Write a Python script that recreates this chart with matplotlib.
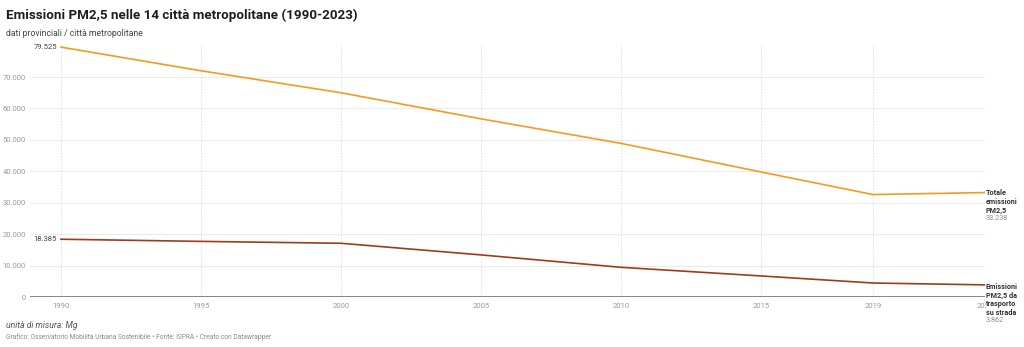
import matplotlib.pyplot as plt

plt.rcParams['font.family'] = ['Roboto', 'DejaVu Sans']

# Emissioni PM2,5 (Mg) nelle 14 città metropolitane
anni = [1990, 1995, 2000, 2005, 2010, 2015, 2019, 2023]
totale = [79525, 72000, 65000, 56700, 48900, 39800, 32600, 33238]
trasporto = [18385, 17700, 17100, 13400, 9450, 6700, 4450, 3862]
anni_tick = [1990, 1995, 2000, 2005, 2010, 2015, 2019, 2023]
valori_tick = [0, 10000, 20000, 30000, 40000, 50000, 60000, 70000]

ARANCIO = '#f8991d'
MARRONE = '#9e3b1b'
W, H = 1024, 347


def fmt(v):
    return f"{v:,}".replace(",", ".")


def px(x, y):
    return x / W, 1 - y / H


fig = plt.figure(figsize=(W / 100, H / 100), dpi=100)
# area del grafico: da x=30 a x=985, da y=45 a y=297 (pixel)
ax = fig.add_axes([30 / W, 1 - 297 / H, 955 / W, 252 / H])
ax.set_xlim(1990 - 31 / 28, 2023)
ax.set_ylim(0, 80200)

for s in ax.spines.values():
    s.set_visible(False)

# griglia orizzontale continua, verticale tratteggiata
for v in valori_tick[1:]:
    ax.axhline(v, color='#ebebeb', lw=0.8, zorder=0)
for a in anni_tick:
    ax.axvline(a, color='#e0e0e0', lw=0.7, ls=(0, (1.5, 1.5)), zorder=0)
ax.axhline(0, color='#666666', lw=1.1, zorder=1)

ax.plot(anni, totale, color=ARANCIO, lw=1.2, zorder=3,
        solid_joinstyle='round')
ax.plot(anni, trasporto, color=MARRONE, lw=1.2, zorder=3,
        solid_joinstyle='round')

ax.set_xticks(anni_tick)
ax.set_xticklabels([str(a) for a in anni_tick])
ax.set_yticks(valori_tick)
ax.set_yticklabels([fmt(v) for v in valori_tick])
ax.tick_params(length=0, labelsize=5.5, labelcolor='#9a9a9a')
ax.tick_params(axis='x', pad=4)
ax.tick_params(axis='y', pad=3)

# valori iniziali
for serie in (totale, trasporto):
    ax.annotate(fmt(serie[0]), (anni[0], serie[0]), xytext=(-3, 0),
                textcoords='offset points', ha='right', va='center',
                fontsize=5.5, color='#444444')

# etichette delle serie a destra (sfondo bianco sopra l'ultimo anno)
lab_kw = dict(ha='left', va='center', fontsize=5.2, linespacing=1.12,
              transform=fig.transFigure, zorder=5)
sfondo = dict(facecolor='white', edgecolor='none', pad=0.3)
fig.text(*px(986, 202), 'Totale\nemissioni\nPM2,5', color='#333333',
         fontweight='bold', **lab_kw)
fig.text(*px(986, 219), fmt(totale[-1]), color='#8a8a8a', **lab_kw)
fig.text(*px(986, 300), 'Emissioni\nPM2,5 da\ntrasporto\nsu strada',
         color='#333333', fontweight='bold', bbox=sfondo, **lab_kw)
fig.text(*px(986, 320.5), fmt(trasporto[-1]), color='#8a8a8a', **lab_kw)

# titolo, sottotitolo e note
fig.text(*px(6, 15), 'Emissioni PM2,5 nelle 14 città metropolitane (1990-2023)',
         fontsize=9.6, fontweight='bold', color='#1d1d1d', va='center')
fig.text(*px(6, 33), 'dati provinciali / città metropolitane',
         fontsize=6.2, color='#444444', va='center')
fig.text(*px(6, 325), 'unità di misura: Mg', fontsize=6.2,
         style='italic', color='#555555', va='center')
fig.text(*px(6, 337), 'Grafico: Osservatorio Mobilità Urbana Sostenibile • '
         'Fonte: ISPRA • Creato con Datawrapper', fontsize=4.75,
         color='#8a8a8a', va='center')

fig.savefig('out.png', dpi=100)
